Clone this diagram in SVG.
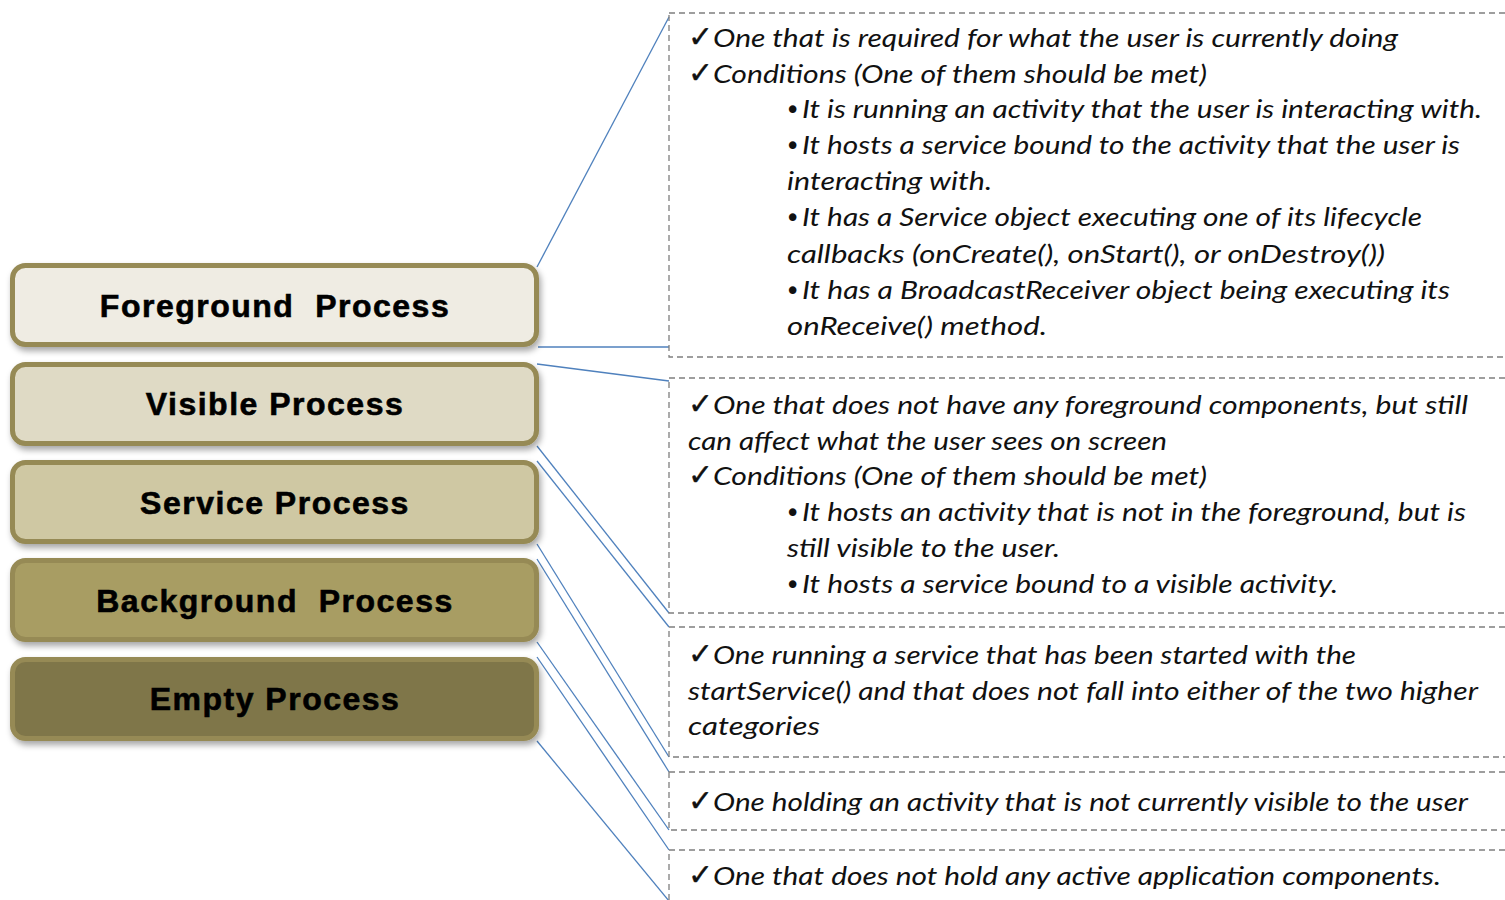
<svg xmlns="http://www.w3.org/2000/svg" width="1505" height="900" viewBox="0 0 1505 900">
<style>
.pbox{stroke:#968a55;stroke-width:5;filter:url(#sh)}
.plabel{font-family:"Liberation Sans",Arial,sans-serif;font-weight:bold;font-size:32px;letter-spacing:1.5px;fill:#000;stroke:#000;stroke-width:0.6;text-anchor:middle;white-space:pre}
.dbox{fill:none;stroke:#7f7f7f;stroke-width:1.3;stroke-dasharray:6 4}
.conn line{stroke:#4f81bd;stroke-width:1.3}
.t{font-family:Lato,"Open Sans",sans-serif;font-style:italic;font-size:26px;fill:#111}
.ck{font-family:"DejaVu Sans",sans-serif;font-size:30px;fill:#111;stroke:#111;stroke-width:0.4}
.bl{font-family:"DejaVu Sans",sans-serif;font-size:26px;fill:#111}
</style>
<defs>
<filter id="sh" x="-5%" y="-20%" width="115%" height="150%">
<feDropShadow dx="2" dy="4" stdDeviation="3" flood-color="#000" flood-opacity="0.35"/>
</filter>
</defs>
<rect width="1505" height="900" fill="#fff"/>

<g id="connectors" class="conn">
<line x1="537" y1="267" x2="669" y2="17"/>
<line x1="538" y1="347" x2="669" y2="347"/>
<line x1="537" y1="364" x2="669" y2="381"/>
<line x1="537" y1="446" x2="669" y2="613"/>
<line x1="537" y1="461" x2="669" y2="627"/>
<line x1="537" y1="544" x2="669" y2="757"/>
<line x1="537" y1="559" x2="669" y2="772"/>
<line x1="537" y1="642" x2="669" y2="830"/>
<line x1="537" y1="657" x2="669" y2="850"/>
<line x1="537" y1="741" x2="669" y2="901"/>
</g>

<g id="foreground">
<rect class="pbox" x="12.5" y="265.5" width="524" height="79" rx="13" fill="#efece3"/>
<text class="plabel" x="275" y="317">Foreground  Process</text>
</g>
<g id="visible">
<rect class="pbox" x="12.5" y="364.5" width="524" height="79" rx="13" fill="#dfdac5"/>
<text class="plabel" x="275" y="415">Visible Process</text>
</g>
<g id="service">
<rect class="pbox" x="12.5" y="462.5" width="524" height="79" rx="13" fill="#cfc8a3"/>
<text class="plabel" x="275" y="514">Service Process</text>
</g>
<g id="background">
<rect class="pbox" x="12.5" y="560.5" width="524" height="79" rx="13" fill="#a89d63"/>
<text class="plabel" x="275" y="612">Background  Process</text>
</g>
<g id="empty">
<rect class="pbox" x="12.5" y="659.5" width="524" height="79" rx="13" fill="#7f7649"/>
<text class="plabel" x="275" y="710">Empty Process</text>
</g>

<g id="desc-foreground">
<rect class="dbox" x="669" y="13" width="860" height="344"/>
<text class="ck" x="688" y="47">✓</text>
<text class="t" x="713" y="47" textLength="685" lengthAdjust="spacingAndGlyphs">One that is required for what the user is currently doing</text>
<text class="ck" x="688" y="83">✓</text>
<text class="t" x="713" y="83" textLength="494" lengthAdjust="spacingAndGlyphs">Conditions (One of them should be met)</text>
<text class="bl" x="785" y="119">•</text>
<text class="t" x="802" y="118" textLength="680" lengthAdjust="spacingAndGlyphs">It is running an activity that the user is interacting with.</text>
<text class="bl" x="785" y="155">•</text>
<text class="t" x="802" y="154" textLength="658" lengthAdjust="spacingAndGlyphs">It hosts a service bound to the activity that the user is</text>
<text class="t" x="787" y="190" textLength="205" lengthAdjust="spacingAndGlyphs">interacting with.</text>
<text class="bl" x="785" y="227">•</text>
<text class="t" x="802" y="226" textLength="620" lengthAdjust="spacingAndGlyphs">It has a Service object executing one of its lifecycle</text>
<text class="t" x="787" y="263" textLength="598" lengthAdjust="spacingAndGlyphs">callbacks (onCreate(), onStart(), or onDestroy())</text>
<text class="bl" x="785" y="300">•</text>
<text class="t" x="802" y="299" textLength="648" lengthAdjust="spacingAndGlyphs">It has a BroadcastReceiver object being executing its</text>
<text class="t" x="787" y="335" textLength="260" lengthAdjust="spacingAndGlyphs">onReceive() method.</text>
</g>

<g id="desc-visible">
<rect class="dbox" x="669" y="378" width="860" height="235"/>
<text class="ck" x="688" y="414">✓</text>
<text class="t" x="713" y="414" textLength="755" lengthAdjust="spacingAndGlyphs">One that does not have any foreground components, but still</text>
<text class="t" x="688" y="450" textLength="479" lengthAdjust="spacingAndGlyphs">can affect what the user sees on screen</text>
<text class="ck" x="688" y="485">✓</text>
<text class="t" x="713" y="485" textLength="494" lengthAdjust="spacingAndGlyphs">Conditions (One of them should be met)</text>
<text class="bl" x="785" y="522">•</text>
<text class="t" x="802" y="521" textLength="664" lengthAdjust="spacingAndGlyphs">It hosts an activity that is not in the foreground, but is</text>
<text class="t" x="787" y="557" textLength="273" lengthAdjust="spacingAndGlyphs">still visible to the user.</text>
<text class="bl" x="785" y="594">•</text>
<text class="t" x="802" y="593" textLength="536" lengthAdjust="spacingAndGlyphs">It hosts a service bound to a visible activity.</text>
</g>

<g id="desc-service">
<rect class="dbox" x="669" y="627" width="860" height="130"/>
<text class="ck" x="688" y="664">✓</text>
<text class="t" x="713" y="664" textLength="643" lengthAdjust="spacingAndGlyphs">One running a service that has been started with the</text>
<text class="t" x="688" y="700" textLength="790" lengthAdjust="spacingAndGlyphs">startService() and that does not fall into either of the two higher</text>
<text class="t" x="688" y="735" textLength="132" lengthAdjust="spacingAndGlyphs">categories</text>
</g>

<g id="desc-background">
<rect class="dbox" x="669" y="772" width="860" height="58"/>
<text class="ck" x="688" y="811">✓</text>
<text class="t" x="713" y="811" textLength="755" lengthAdjust="spacingAndGlyphs">One holding an activity that is not currently visible to the user</text>
</g>

<g id="desc-empty">
<rect class="dbox" x="669" y="850" width="860" height="80"/>
<text class="ck" x="688" y="885">✓</text>
<text class="t" x="713" y="885" textLength="728" lengthAdjust="spacingAndGlyphs">One that does not hold any active application components.</text>
</g>
</svg>
